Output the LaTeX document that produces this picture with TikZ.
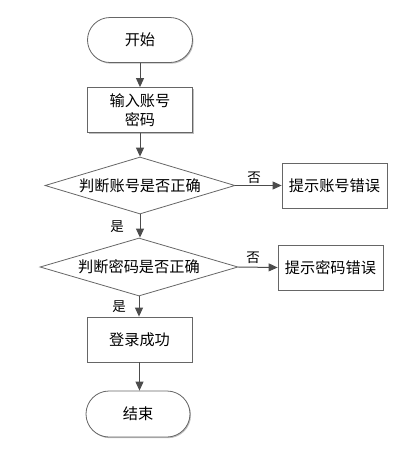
\documentclass[tikz,border=0pt]{standalone}
\usepackage{fontspec}
\setmainfont{Noto Sans CJK SC}
\usetikzlibrary{arrows.meta,shapes.geometric,shadows}
\begin{document}
\begin{tikzpicture}[x=1pt,y=-1pt,
  every node/.style={font=\fontsize{15.2}{18}\selectfont, inner sep=0pt},
  sh/.style={drop shadow={shadow xshift=1pt,shadow yshift=-1.2pt,opacity=0.25,fill=black}},
  term/.style={draw=black!60, line width=0.8pt, fill=white, sh, minimum width=105pt, minimum height=45pt, rounded corners=22.5pt},
  procbox/.style={draw=black!60, line width=0.8pt, fill=white, sh, minimum width=105pt, minimum height=45pt, align=center},
  decide/.style={draw=black!60, line width=0.8pt, fill=white, diamond, aspect=3.33, inner sep=0pt},
  conn/.style={draw=black!70, line width=1pt, -{Triangle[length=9pt,width=8pt]}},
  lbl/.style={font=\fontsize{13.5}{16}\selectfont}
]
\useasboundingbox (0,0) rectangle (401,451);
\node[term] (start) at (140,40) {开始};
\node[procbox, text width=100pt, align=center] (input) at (140,110) {输入账号\\[1pt]密码};
\node[decide, minimum width=190pt, minimum height=57pt] (d1) at (140,185.5) {判断账号是否正确};
\node[procbox] (e1) at (334.5,185.5) {提示账号错误};
\node[decide, minimum width=198pt, minimum height=58pt] (d2) at (139,267) {判断密码是否正确};
\node[procbox] (e2) at (330.5,267.5) {提示密码错误};
\node[procbox] (ok) at (139.5,339.5) {登录成功};
\node[term, minimum width=104pt, minimum height=46pt, rounded corners=23pt] (end) at (138,414) {结束};
\draw[conn] (start) -- (input);
\draw[conn] (input) -- (d1);
\draw[conn] (d1.east) -- (e1.west);
\draw[conn] (d1.south) -- (d1.south |- d2.north);
\draw[conn] (d2.east) -- (e2.west);
\draw[conn] (d2.south) -- (d2.south |- ok.north);
\draw[conn] (ok.south) -- (ok.south |- end.north);
\node[lbl] (n1) at (254,178) {否};
\node[lbl] (n2) at (253,258) {否};
\node[lbl] (y1) at (117,227) {是};
\node[lbl] (y2) at (119,307) {是};
\end{tikzpicture}
\end{document}
